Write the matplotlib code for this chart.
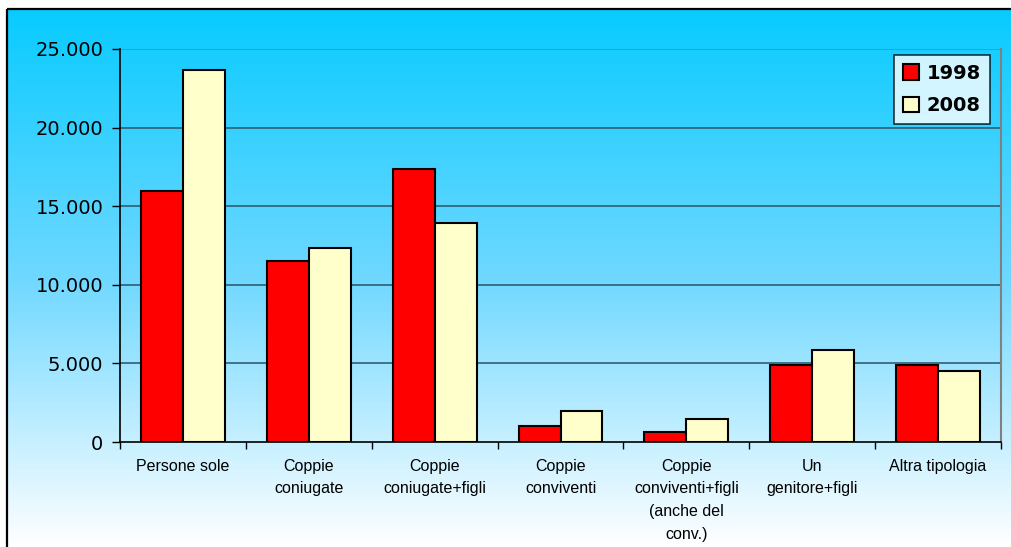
import numpy as np
import matplotlib
matplotlib.use("Agg")
import matplotlib.pyplot as plt
from matplotlib.colors import LinearSegmentedColormap
from matplotlib.patches import Rectangle

# Data
categories = ["Persone sole", "Coppie\nconiugate", "Coppie\nconiugate+figli",
              "Coppie\nconviventi", "Coppie\nconviventi+figli\n(anche del\nconv.)",
              "Un\ngenitore+figli", "Altra tipologia"]
values_1998 = [15970, 11520, 17370, 1020, 640, 4900, 4900]
values_2008 = [23670, 12340, 13930, 1970, 1460, 5850, 4520]
y_ticks = [0, 5000, 10000, 15000, 20000, 25000]
y_labels = ["0", "5.000", "10.000", "15.000", "20.000", "25.000"]

W, H = 1011, 547
fig = plt.figure(figsize=(W / 100, H / 100), dpi=100)

# background gradient inside the outer frame
bg = fig.add_axes([0, 0, 1, 1], zorder=0)
bg.set_axis_off()
bg.set_xlim(0, W)
bg.set_ylim(H, 0)
cmap = LinearSegmentedColormap.from_list("sky", ["#08cbff", "#6fd8ff", "#ffffff"])
grad = np.linspace(0, 1, 256).reshape(-1, 1)
bg.imshow(grad, cmap=cmap, aspect="auto", extent=[7, W + 2, H, 9], origin="upper")
bg.add_patch(Rectangle((7, 9), W, H, fill=False, edgecolor="black", linewidth=1.6))

ax = fig.add_axes([120 / W, 1 - 442 / H, (1001 - 120) / W, (442 - 49) / H], zorder=1)
ax.patch.set_alpha(0)

x = np.arange(len(categories))
w = 0.333
ax.bar(x - w / 2, values_1998, w, color="#ff0000", edgecolor="black", linewidth=1.5, label="1998", zorder=3)
ax.bar(x + w / 2, values_2008, w, color="#ffffcc", edgecolor="black", linewidth=1.5, label="2008", zorder=3)

ax.set_xlim(-0.5, len(categories) - 0.5)
ax.set_ylim(0, 25000)
ax.set_yticks(y_ticks)
ax.set_yticklabels(y_labels, fontsize=14, family="DejaVu Sans")
for yv in y_ticks[1:]:
    ax.axhline(yv, color="#2f5f6f" if yv < 25000 else "#808080", linewidth=1.2, zorder=1)

ax.set_xticks(x)
ax.set_xticklabels(categories, fontsize=11.5, family="Liberation Sans", linespacing=1.64)
ax.tick_params(axis="x", which="major", length=0, pad=12)
ax.set_xticks(np.arange(len(categories) + 1) - 0.5, minor=True)
ax.tick_params(axis="x", which="minor", length=5, width=1, direction="out")
ax.tick_params(axis="y", length=6, width=1, direction="out", pad=6)

ax.spines["left"].set_color("black")
ax.spines["bottom"].set_color("black")
ax.spines["left"].set_linewidth(1.2)
ax.spines["bottom"].set_linewidth(1.2)
ax.spines["top"].set_visible(False)
ax.spines["right"].set_color("#808080")
ax.spines["right"].set_linewidth(1.5)

leg = ax.legend(loc="upper right", bbox_to_anchor=(0.9875, 0.985), prop={"weight": "bold", "size": 14},
                frameon=True, fancybox=False, edgecolor="black", handlelength=0.85, handleheight=0.85,
                handletextpad=0.4, borderpad=0.45, labelspacing=0.7, borderaxespad=0)
leg.get_frame().set_linewidth(1.2)
leg.get_frame().set_facecolor("white")

fig.savefig("out.png", dpi=100)
